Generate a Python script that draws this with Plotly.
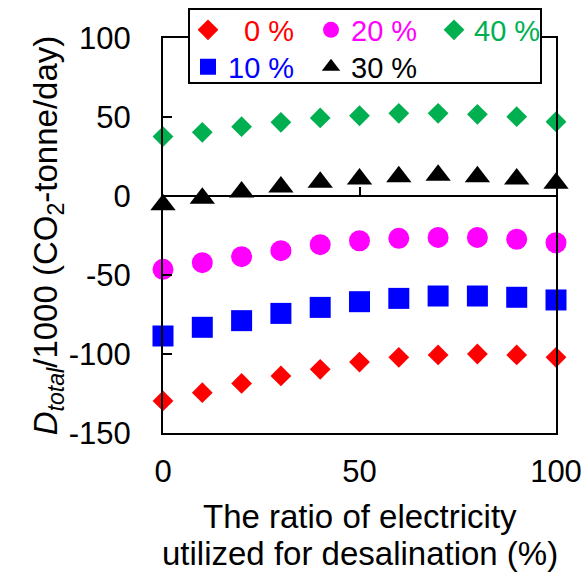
import plotly.graph_objects as go

# Share of electricity used for desalination (%)
ratio = [0, 10, 20, 30, 40, 50, 60, 70, 80, 90, 100]

# D_total / 1000 (CO2-tonne/day) for each case
d_0 = [-129.7, -124.5, -118.6, -113.9, -109.7, -105.1, -102.1, -100.6, -100.0, -100.6, -102.1]
d_10 = [-88.6, -83.1, -78.9, -74.3, -70.5, -66.9, -64.8, -63.3, -63.3, -64.1, -65.8]
d_20 = [-46.4, -42.2, -38.4, -34.6, -30.8, -28.3, -26.8, -26.2, -26.2, -27.4, -29.6]
d_30 = [-5.5, -1.5, 2.5, 5.7, 8.7, 10.8, 12.2, 13.1, 12.2, 10.8, 8.0]
d_40 = [37.6, 40.3, 43.9, 46.6, 49.4, 50.8, 52.3, 52.3, 51.7, 50.2, 47.0]

series_names = ["0 %", "10 %", "20 %", "30 %", "40 %"]
x_ticks = [0, 50, 100]
y_ticks = [100, 50, 0, -50, -100, -150]
y_tick_labels = ["100", "50", "0", "-50", "-100", "-150"]
x_title_lines = ["The ratio of electricity", "utilized for desalination (%)"]

FONT = "Arial, Liberation Sans, sans-serif"
W, H = 587, 575
L, R, T, B = 163, 31, 38, 142

styles = {
    "0 %": dict(color="#FF0000", symbol="diamond", size=16, legend="legend"),
    "10 %": dict(color="#0000FF", symbol="square", size=21, legend="legend2"),
    "20 %": dict(color="#FF00FF", symbol="circle", size=21, legend="legend"),
    "30 %": dict(color="#000000", symbol="triangle-up", size=22, legend="legend2"),
    "40 %": dict(color="#00B050", symbol="diamond", size=16, legend="legend"),
}
values = dict(zip(series_names, [d_0, d_10, d_20, d_30, d_40]))
legend_order = ["0 %", "20 %", "40 %", "10 %", "30 %"]

fig = go.Figure()
for name in legend_order:
    st = styles[name]
    label = name if name != "0 %" else "&nbsp;&nbsp;" + name
    fig.add_trace(go.Scatter(
        x=ratio, y=values[name], mode="markers",
        name=f'<span style="color:{st["color"]}">{label}</span>',
        marker=dict(color=st["color"], symbol=st["symbol"], size=st["size"], line=dict(width=0)),
        legend=st["legend"], cliponaxis=False, showlegend=True,
    ))

# helper trace for the tick marks on the axis crossing at y = 0
fig.add_trace(go.Scatter(x=[None], y=[None], xaxis="x2", yaxis="y",
                         showlegend=False, hoverinfo="skip"))

y_min, y_max = -150, 100
legend_common = dict(
    orientation="h", xref="container", yref="container",
    xanchor="left", yanchor="middle",
    bgcolor="rgba(0,0,0,0)", borderwidth=0, font=dict(size=29),
    entrywidth=78, entrywidthmode="pixels",
)

fig.update_layout(
    width=W, height=H,
    margin=dict(l=L, r=R, t=T, b=B, autoexpand=False),
    paper_bgcolor="white", plot_bgcolor="white",
    font=dict(family=FONT, size=31, color="#000000"),
    showlegend=True,
    xaxis=dict(
        range=[0, 100], tickvals=x_ticks, ticks="", showgrid=False, zeroline=False,
        showline=True, linecolor="black", linewidth=2, mirror=True,
        tickfont=dict(size=31), ticklabelstandoff=10,
    ),
    xaxis2=dict(
        range=[0, 100], overlaying="x", anchor="free",
        position=(0 - y_min) / (y_max - y_min),
        tickvals=x_ticks, ticks="inside", ticklen=9, tickwidth=2, tickcolor="black",
        showticklabels=False, showgrid=False, zeroline=False, showline=False,
    ),
    yaxis=dict(
        range=[y_min, y_max], tickvals=y_ticks, ticktext=y_tick_labels,
        ticks="inside", ticklen=9, tickwidth=2,
        tickcolor="black", showgrid=False,
        zeroline=True, zerolinecolor="black", zerolinewidth=2,
        showline=True, linecolor="black", linewidth=2, mirror=True,
        tickfont=dict(size=31), ticklabelstandoff=24,
        title=dict(text="<i>D</i><sub><i>total</i></sub>/1000 (CO<sub>2</sub>-tonne/day)",
                   font=dict(size=33), standoff=0),
    ),
    legend=dict(legend_common, x=188 / W, y=1 - 30 / H),
    legend2=dict(legend_common, x=188 / W, y=1 - 67 / H),
    shapes=[dict(
        type="rect", xref="paper", yref="paper",
        x0=(189 - L) / (W - L - R), x1=(541 - L) / (W - L - R),
        y0=(H - B - 83) / (H - T - B), y1=(H - B - 9) / (H - T - B),
        fillcolor="white", line=dict(color="black", width=2), layer="above",
    )],
    annotations=[
        dict(text=x_title_lines[0], xref="paper", yref="paper", x=0.5, y=(H - B - 516) / (H - T - B),
             showarrow=False, font=dict(size=33), xanchor="center", yanchor="middle"),
        dict(text=x_title_lines[1], xref="paper", yref="paper", x=0.5, y=(H - B - 553) / (H - T - B),
             showarrow=False, font=dict(size=33), xanchor="center", yanchor="middle"),
    ],
)

fig.write_html("out.html")
